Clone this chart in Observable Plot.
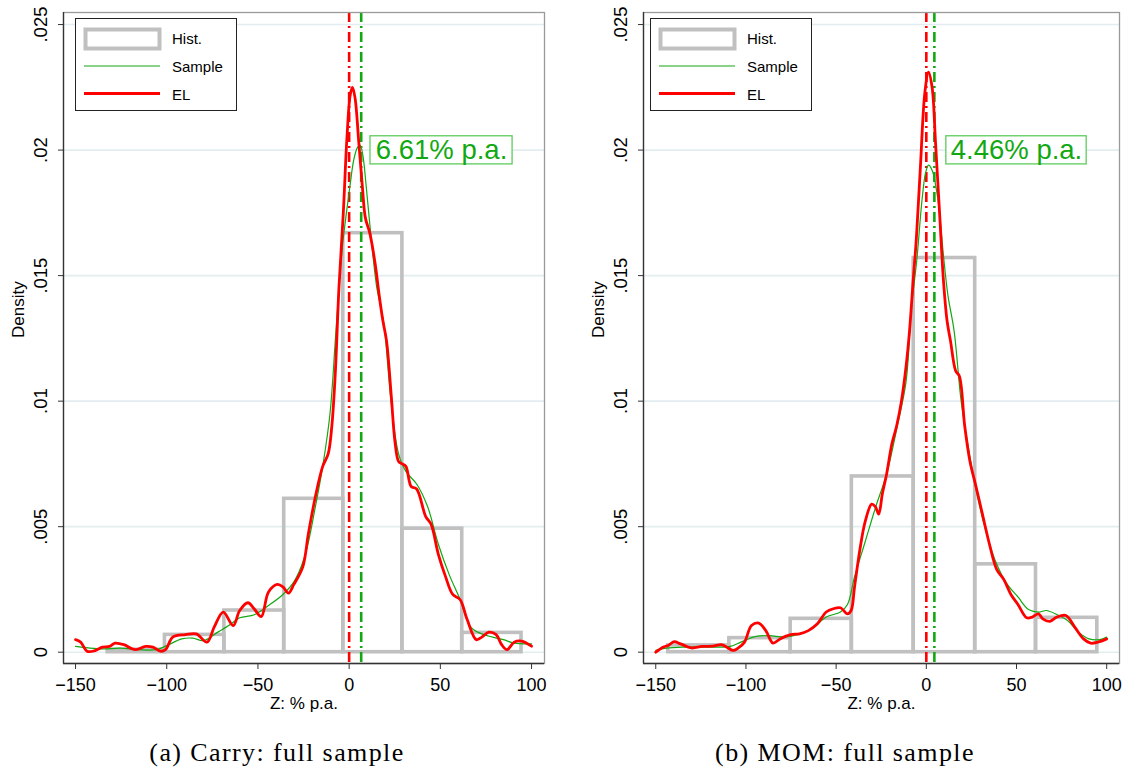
<!DOCTYPE html>
<html><head><meta charset="utf-8">
<script src="https://cdn.jsdelivr.net/npm/d3@7"></script>
<script src="https://cdn.jsdelivr.net/npm/@observablehq/plot@0.6"></script>
<style>
body{margin:0;background:#fff;}
#wrap{position:relative;width:1126px;height:782px;overflow:hidden;font-family:"Liberation Sans",Arial,sans-serif;}
.panel{position:absolute;top:0;}
.legend{position:absolute;background:#fff;border:1.3px solid #222;box-sizing:border-box;}
.legend svg{position:absolute;left:0;top:0;}
.caption{position:absolute;top:738px;font-family:"Liberation Serif","DejaVu Serif",serif;font-size:26px;letter-spacing:1.4px;color:#000;text-align:center;width:400px;}
</style></head>
<body><div id="wrap"></div>
<script>
// ---------- data ----------
const xTicks = [-150, -100, -50, 0, 50, 100];
const yTicks = [0, 0.005, 0.01, 0.015, 0.02, 0.025];
const yTickLabels = ["0", ".005", ".01", ".015", ".02", ".025"];
const legendLabels = ["Hist.", "Sample", "EL"];
const captions = ["(a) Carry: full sample", "(b) MOM: full sample"];
const annotations = ["6.61% p.a.", "4.46% p.a."];

// Carry histogram
const carryBinEdges = [-132.4, -101.0, -68.4, -35.6, -3.2, 29.2, 62.0, 94.5];
const carryBinDensity = [0.0001, 0.00069, 0.00166, 0.00611, 0.01669, 0.00492, 0.00077];
// MOM histogram
const momBinEdges = [-143.1, -109.2, -75.2, -41.3, -7.0, 27.1, 60.8, 94.8];
const momBinDensity = [0.00027, 0.00056, 0.00133, 0.0070, 0.0157, 0.0035, 0.00137];

// Carry EL density
const carryELx = [-150,-147.2,-143.7,-140.3,-135.3,-131.4,-128.4,-123.5,-117.5,-111.6,-107.6,-103.6,-100.7,-96.7,-89.8,-83.8,-77.9,-74,-69,-63.6,-60,-55.5,-52.1,-48.2,-44.2,-39.3,-36.3,-33.3,-30.3,-25.4,-22.4,-18.5,-14.5,-11.5,-9.5,-7.6,-5.6,-3.2,-1.2,0.6,1.8,3.2,5.3,7.3,8.9,11.3,14.2,16.5,18.5,20.5,23.1,25.1,27.1,29.1,31.1,34,37,42,44.9,48.9,52.9,56.8,60.8,64.7,69.7,72.7,76.6,80.6,83.6,86.5,90.5,94.5,100];
const carryELy = [0.0005,0.0004,0.00004,0.00004,0.0002,0.00023,0.00036,0.0003,0.0001,0.00023,0.0002,0.00004,0.0001,0.0006,0.0007,0.00073,0.0004,0.001,0.0016,0.00106,0.00166,0.00197,0.00173,0.00142,0.0024,0.0027,0.0026,0.00235,0.0027,0.0034,0.0047,0.0062,0.0074,0.0079,0.009,0.0111,0.0145,0.0175,0.0205,0.0222,0.0225,0.0221,0.0203,0.0185,0.0173,0.0167,0.0155,0.0142,0.0132,0.0124,0.0102,0.0084,0.0076,0.0075,0.0074,0.0066,0.0065,0.0054,0.0051,0.0039,0.003,0.0023,0.0021,0.0013,0.0005,0.0006,0.0008,0.0007,0.0003,0.0001,0.0004,0.00044,0.00024];
// Carry sample density
const carrySx = [-150,-143,-135,-125.4,-115.5,-105.6,-99.7,-91.8,-85.8,-79.9,-72,-66,-60,-52,-44.2,-36.3,-30.3,-24.4,-18.5,-14.5,-10.5,-7.6,-5.6,-3.5,-1.5,0.5,2.5,4.5,6,7.5,9.3,12.2,15.2,17.2,19.2,23.1,27.1,31.1,37,43,48.9,54.8,60.8,66.7,72.7,78.6,84.6,90.5,100];
const carrySy = [0.00023,0.00017,0.00013,0.00016,0.0001,0.0001,0.00027,0.00053,0.00056,0.00046,0.0008,0.00106,0.00137,0.00149,0.00186,0.0023,0.0028,0.0038,0.0058,0.0074,0.0095,0.0124,0.0145,0.0163,0.0175,0.0186,0.0196,0.0201,0.0202,0.0198,0.0186,0.0164,0.0145,0.0138,0.0130,0.0099,0.0079,0.0072,0.0067,0.0058,0.0043,0.0031,0.0021,0.001,0.00073,0.0006,0.0005,0.00036,0.00033];

// MOM EL density
const momELx = [-150,-146,-143.1,-139.8,-136.2,-130.3,-124.4,-118.5,-113.6,-110.6,-107.1,-103.7,-100.8,-96.9,-92.9,-89,-85,-81.1,-75.2,-70.3,-65.4,-60.4,-55.5,-51.6,-47.6,-43.7,-41.7,-39.8,-36.8,-33.9,-30.3,-28.3,-26.4,-24.4,-22,-19.1,-16.5,-13.8,-11.2,-9.3,-7.3,-5.5,-3.3,-0.8,1.2,3.2,5.1,7.5,9.5,11.5,13.4,16.3,18.3,21.3,24.2,27.2,31.1,35,39,42.9,46.9,50.8,55.7,58.7,62.2,64.6,68.5,72.4,77.4,82.3,87.2,91.1,95.1,100];
const momELy = [0,0.0002,0.00027,0.00042,0.00033,0.00017,0.00023,0.00024,0.0003,0.0002,0.00007,0.0002,0.0004,0.00106,0.00116,0.00086,0.00036,0.00053,0.0007,0.00073,0.00086,0.00113,0.0016,0.00173,0.00177,0.00153,0.00166,0.0026,0.0041,0.0052,0.0059,0.0058,0.0055,0.0063,0.0071,0.0083,0.009,0.01,0.0114,0.0128,0.0148,0.0165,0.0193,0.0223,0.0231,0.0225,0.0203,0.0173,0.0148,0.0132,0.0124,0.0112,0.011,0.009,0.0076,0.0067,0.0055,0.0043,0.0033,0.0029,0.0023,0.0019,0.00137,0.0014,0.00153,0.00133,0.00123,0.0014,0.00146,0.001,0.00053,0.00036,0.0004,0.00053];
// MOM sample density
const momSx = [-150,-144.1,-134.3,-118.5,-108.7,-102.8,-94.9,-87,-79.1,-71.3,-63.4,-55.5,-47.6,-43.7,-39.8,-33.9,-28,-22,-16.1,-11.2,-8.3,-5.3,-2.4,-0.4,1.2,3.2,6.5,9.5,12,15.4,19.3,23.2,27.2,33.1,39,44.9,50.8,56.7,62.7,66.5,72.4,78.3,84.3,90.2,96.1,100];
const momSy = [0.00007,0.00016,0.0002,0.0002,0.00023,0.0004,0.00062,0.00066,0.0006,0.0007,0.00093,0.0014,0.0016,0.0019,0.003,0.0044,0.0058,0.0071,0.009,0.0108,0.0137,0.0156,0.018,0.0191,0.0194,0.0192,0.018,0.0158,0.0142,0.0128,0.01,0.0082,0.0066,0.0048,0.0035,0.0027,0.0022,0.0017,0.0016,0.00166,0.0015,0.00126,0.0008,0.00053,0.0005,0.0006];

// means (vertical lines): EL, Sample
const carryMeans = [0, 6.61];
const momMeans = [0, 4.46];
// annotation box extents in data units [x1, x2, y1, y2]
const carryNote = [11.7, 89.6, 0.01943, 0.02055];
const momNote = [11.1, 88.9, 0.01943, 0.02055];

// ---------- styles ----------
const RED = "#ff0000", GREEN = "#12a812", GRAY = "#c0c0c0";

function pts(xs, ys) { return xs.map((x, i) => ({x, y: ys[i]})); }
function bins(edges, dens) { return dens.map((d, i) => ({x1: edges[i], x2: edges[i + 1], y: d})); }

function panel(opt) {
  const H = 722;
  return Plot.plot({
    width: 563, height: H,
    marginLeft: opt.ml, marginRight: opt.mr, marginTop: 12, marginBottom: H - 663,
    style: {fontFamily: "'Liberation Sans', Arial, sans-serif", background: "#fff", color: "#000"},
    x: {domain: opt.xdom, ticks: xTicks, label: null},
    y: {domain: [-0.00045, 0.02548], label: null},
    marks: [
      Plot.gridY(yTicks, {stroke: "#e3edf0", strokeOpacity: 1, strokeWidth: 1.6}),
      Plot.rect(opt.hist, {x1: "x1", x2: "x2", y1: 0, y2: "y", fill: "none", stroke: GRAY, strokeWidth: 3.6}),
      Plot.ruleX([opt.means[0]], {stroke: RED, strokeWidth: 2.6, strokeDasharray: "10,4,2,4"}),
      Plot.ruleX([opt.means[1]], {stroke: GREEN, strokeWidth: 2.6, strokeDasharray: "10,4,2,4"}),
      Plot.line(opt.sample, {x: "x", y: "y", stroke: GREEN, strokeWidth: 1.2, curve: "catmull-rom"}),
      Plot.line(opt.el, {x: "x", y: "y", stroke: RED, strokeWidth: 2.8, curve: "catmull-rom"}),
      Plot.frame({stroke: "#9a9a9a", strokeWidth: 1.3}),
      Plot.ruleX([opt.xdom[0]], {stroke: "#333", strokeWidth: 1.3}),
      Plot.ruleY([-0.00045], {stroke: "#333", strokeWidth: 1.3}),
      Plot.axisY({ticks: yTicks, tickFormat: () => "", tickSize: 5, stroke: "#333"}),
      Plot.text(yTicks, {y: d => d, text: (d, i) => yTickLabels[i], frameAnchor: "left", dx: -22, rotate: -90, textAnchor: "middle", lineAnchor: "middle", fontSize: 18.5, fill: "#000"}),
      Plot.axisX({ticks: xTicks, tickSize: 6, tickPadding: 9, fontSize: 18, stroke: "#333", label: null}),
      Plot.text(["Density"], {frameAnchor: "left", dx: -45, rotate: -90, fontSize: 17, fill: "#000"}),
      Plot.text(["Z: % p.a."], {frameAnchor: "bottom", dy: 45, fontSize: 17, fill: "#000"}),
      Plot.rect([opt.note], {x1: d => d[0], x2: d => d[1], y1: d => d[2], y2: d => d[3], fill: "#fff", stroke: "#5ccc5c", strokeWidth: 1.3}),
      Plot.text([opt.noteText], {x: (opt.note[0] + opt.note[1]) / 2, y: (opt.note[2] + opt.note[3]) / 2, fontSize: 27.5, fill: GREEN, textAnchor: "middle", lineAnchor: "middle"})
    ]
  });
}

function legend(left) {
  const d = document.createElement("div");
  d.className = "legend";
  d.style.left = left + "px"; d.style.top = "18px"; d.style.width = "162px"; d.style.height = "93px";
  d.innerHTML = `<svg width="162" height="93" font-family="'Liberation Sans', Arial, sans-serif" font-size="15">
    <rect x="9.5" y="10.5" width="74" height="19" fill="none" stroke="${GRAY}" stroke-width="4"/>
    <text x="96" y="25">${legendLabels[0]}</text>
    <line x1="8" x2="84" y1="47" y2="47" stroke="${GREEN}" stroke-width="1.2"/>
    <text x="96" y="52.5">${legendLabels[1]}</text>
    <line x1="8" x2="84" y1="74.5" y2="74.5" stroke="${RED}" stroke-width="2.8"/>
    <text x="96" y="80.5">${legendLabels[2]}</text></svg>`;
  return d;
}

const wrap = document.getElementById("wrap");
const cfgs = [
  {left: 0, ml: 63, mr: 19, xdom: [-156.6, 107.1], hist: bins(carryBinEdges, carryBinDensity), el: pts(carryELx, carryELy), sample: pts(carrySx, carrySy), means: carryMeans, note: carryNote, noteText: annotations[0], leg: 75, cap: 77},
  {left: 563, ml: 80, mr: 7, xdom: [-156.8, 107.1], hist: bins(momBinEdges, momBinDensity), el: pts(momELx, momELy), sample: pts(momSx, momSy), means: momMeans, note: momNote, noteText: annotations[1], leg: 650, cap: 645}
];
cfgs.forEach((c, i) => {
  const p = document.createElement("div");
  p.className = "panel"; p.style.left = c.left + "px";
  p.appendChild(panel(c));
  wrap.appendChild(p);
  wrap.appendChild(legend(c.leg));
  const cap = document.createElement("div");
  cap.className = "caption"; cap.style.left = c.cap + "px"; cap.textContent = captions[i];
  wrap.appendChild(cap);
});
</script></body></html>
